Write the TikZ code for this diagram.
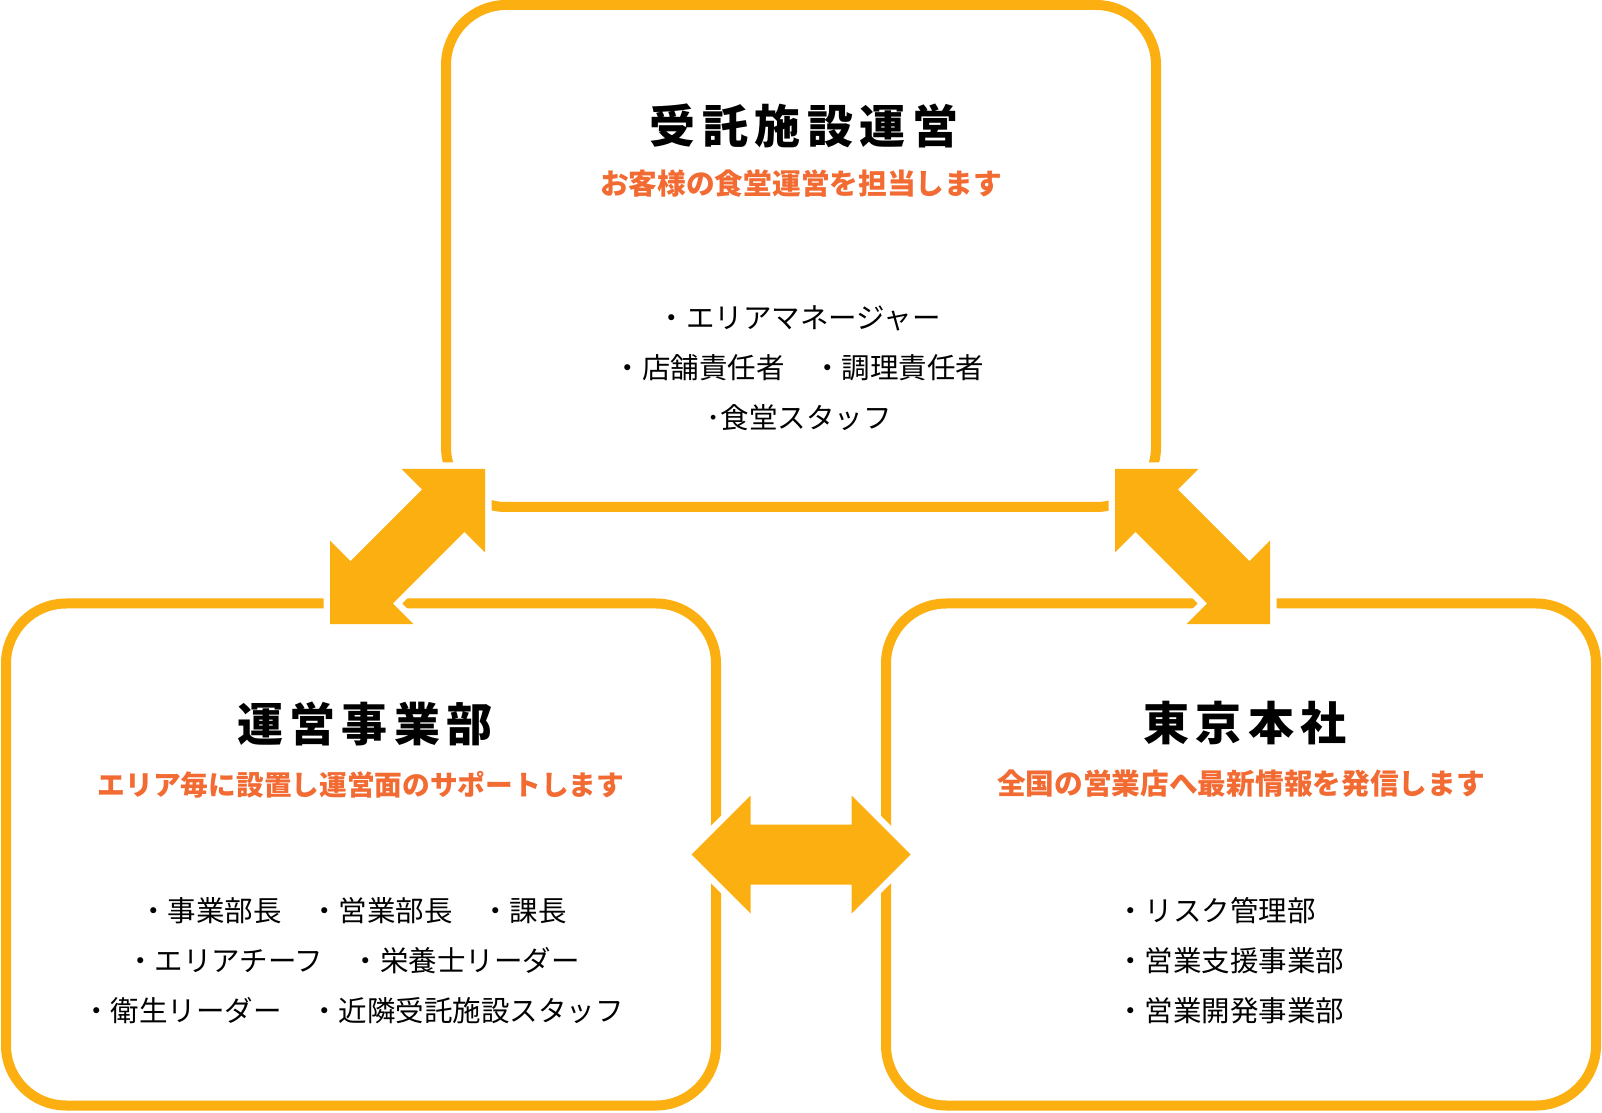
\documentclass[tikz,border=0pt]{standalone}
\usepackage{fontspec}
\newfontfamily\jp{Noto Sans CJK JP}
\newfontfamily\ttlfont{Noto Sans CJK JP}[LetterSpace=14]
\usetikzlibrary{calc}
\definecolor{boxorange}{RGB}{252,175,17}
\definecolor{subred}{RGB}{242,107,51}

\begin{document}
\begin{tikzpicture}[
    x=1pt, y=1pt,
    panel/.style={draw=boxorange, line width=10pt, rounded corners=60pt, minimum width=710pt, minimum height=502pt, inner sep=0pt, outer sep=0pt},
    ttl/.style={inner sep=0pt, font=\ttlfont\bfseries\fontsize{46}{50}\selectfont},
    sub/.style={inner sep=0pt, text=subred, font=\jp\bfseries\fontsize{28.7}{34}\selectfont},
    lst/.style={inner sep=0pt, align=center, font=\jp\fontsize{28.5}{50}\selectfont},
    dbl/.style={fill=boxorange, preaction={draw=white, line width=13pt, line join=round}}
  ]
    \useasboundingbox[fill=white] (0,0) rectangle (1602,1112);

    \node[panel] (ops) at (801,856) {};
    \node[panel] (div) at (361,257.5) {};
    \node[panel] (hq) at (1241,257.5) {};

    \node[ttl] (opst) at ($(ops.north)+(3,-120.5)$) {受託施設運営};
    \node[sub] (opss) at ($(ops.north)+(0,-179)$) {お客様の食堂運営を担当します};
    \node[lst] (opsl) at ($(ops.north)+(-2,-363)$) {・エリアマネージャー\\・店舗責任者　・調理責任者\hspace*{12pt}\\･食堂スタッフ};

    \node[ttl] (divt) at ($(div.north)+(4,-120)$) {運営事業部};
    \node[sub, font=\jp\bfseries\fontsize{27.7}{34}\selectfont] (divs) at ($(div.north)+(0,-181)$) {エリア毎に設置し運営面のサポートします};
    \node[lst] (divl) at ($(div.north)+(-8,-357)$) {・事業部長　・営業部長　・課長\\・エリアチーフ　・栄養士リーダー\\・衛生リーダー　・近隣受託施設スタッフ};

    \node[ttl] (hqt) at ($(hq.north)+(4,-120)$) {東京本社};
    \node[sub] (hqs) at ($(hq.north)+(0,-180)$) {全国の営業店へ最新情報を発信します};
    \node[lst, align=left, anchor=west] (hql) at ($(hq.north)+(-125,-357)$) {・リスク管理部\\・営業支援事業部\\・営業開発事業部};

    % double arrows between the panels
    \coordinate (a1) at ($(ops.south west)+(39,38)$);
    \coordinate (b1) at ($(div.north)+(-31,-20.5)$);
    \coordinate (a2) at ($(ops.south east)+(-41,38)$);
    \coordinate (b2) at ($(hq.north)+(29,-20.5)$);
    \coordinate (a3) at ($(div.east)+(-24.5,0)$);
    \coordinate (b3) at ($(hq.west)+(24.5,0)$);

    \foreach \a/\b in {a1/b1, a2/b2, a3/b3} {
      \coordinate (h1) at ($(\a)!59pt!(\b)$);
      \coordinate (h2) at ($(\b)!59pt!(\a)$);
      \fill[dbl] (\a) -- ($(h1)!59pt!90:(\a)$) -- ($(h1)!30pt!90:(\a)$)
        -- ($(h2)!30pt!-90:(\b)$) -- ($(h2)!59pt!-90:(\b)$) -- (\b)
        -- ($(h2)!59pt!90:(\b)$) -- ($(h2)!30pt!90:(\b)$)
        -- ($(h1)!30pt!-90:(\a)$) -- ($(h1)!59pt!-90:(\a)$) -- cycle;
    }
\end{tikzpicture}
\end{document}
